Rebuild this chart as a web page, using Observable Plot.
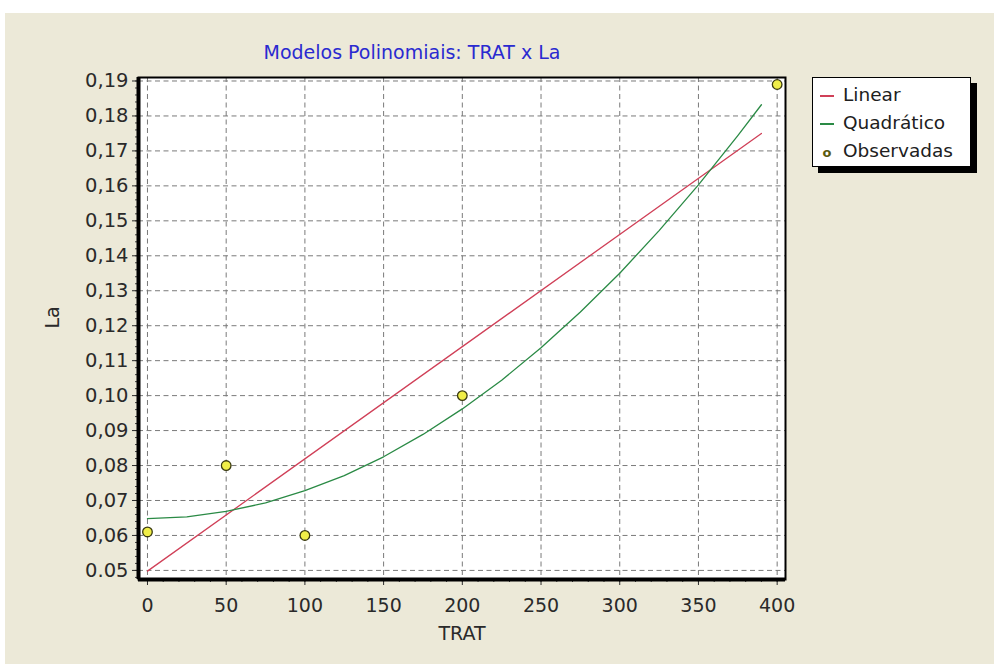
<!DOCTYPE html>
<html>
<head>
<meta charset="utf-8">
<script src="https://cdn.jsdelivr.net/npm/d3@7"></script>
<script src="https://cdn.jsdelivr.net/npm/@observablehq/plot@0.6"></script>
<style>
  html, body { margin: 0; padding: 0; background: #ffffff; }
  #wrap { position: relative; width: 994px; height: 664px; overflow: hidden; font-family: "DejaVu Sans", sans-serif; }
  #panel { position: absolute; left: 5px; top: 13px; right: 0; bottom: 0; background: #ECE9D8; }
  #chart { position: absolute; left: 0; top: 0; }
  #title { position: absolute; left: 212px; width: 400px; top: 41px; text-align: center; color: #2a2ad0; font-size: 19px; }
  #legend { position: absolute; left: 812px; top: 77px; width: 157px; height: 88px; background: #ffffff;
            border: 1.5px solid #000; box-shadow: 6px 6px 0 #000; font-size: 18.5px; color: #202020; }
  .item { position: absolute; left: 7px; height: 24px; line-height: 24px; white-space: nowrap; }
  .swatch { display: inline-block; width: 14px; height: 2px; vertical-align: middle; margin-right: 9px; }
  .mark { display: inline-block; width: 14px; margin-right: 9px; text-align: center; color: #5a5a10; font-size: 13px; font-weight: bold; }
</style>
</head>
<body>
<div id="wrap">
  <div id="panel"></div>
  <div id="chart"></div>
  <div id="title">Modelos Polinomiais: TRAT x La</div>
  <div id="legend"></div>
</div>
<script>
// Observed values
const tratObs = [0, 50, 100, 200, 400];
const laObs = [0.061, 0.080, 0.060, 0.100, 0.189];

// Linear model curve
const tratLinear = [0, 390];
const laLinear = [0.0498, 0.1750];

// Quadratic model curve
const tratQuad = [0, 25, 50, 75, 100, 125, 150, 175, 200, 225, 250, 275, 300, 325, 350, 375, 390];
const laQuad = [0.0648, 0.0653, 0.0669, 0.0693, 0.0728, 0.0771, 0.0825, 0.0889, 0.0962,
                0.1044, 0.1137, 0.1239, 0.1350, 0.1472, 0.1603, 0.1744, 0.1832];

// Axis ticks and labels
const xTicks = [0, 50, 100, 150, 200, 250, 300, 350, 400];
const xMinor = d3.range(0, 401, 10);
const yTicks = [0.05, 0.06, 0.07, 0.08, 0.09, 0.10, 0.11, 0.12, 0.13, 0.14, 0.15, 0.16, 0.17, 0.18, 0.19];
const yTickLabels = ["0.05", "0,06", "0,07", "0,08", "0,09", "0,10", "0,11", "0,12", "0,13", "0,14", "0,15", "0,16", "0,17", "0,18", "0,19"];
const yMinor = d3.range(0.048, 0.1905, 0.002);

const xDomain = [-5.7, 405.3];
const yDomain = [0.0474, 0.191];

const seriesNames = ["Linear", "Quadrático", "Observadas"];
const seriesColors = ["#d04058", "#2a8a45", "#f0ee48"];

const obs = tratObs.map((x, i) => ({x, y: laObs[i]}));
const lin = tratLinear.map((x, i) => ({x, y: laLinear[i]}));
const quad = tratQuad.map((x, i) => ({x, y: laQuad[i]}));

const fmtY = d => {
  const i = yTicks.findIndex(t => Math.abs(t - d) < 1e-9);
  return i >= 0 ? yTickLabels[i] : "";
};

const chart = Plot.plot({
  width: 994,
  height: 664,
  marginLeft: 138,
  marginRight: 209,
  marginTop: 77,
  marginBottom: 85,
  style: { background: "transparent", fontFamily: "DejaVu Sans, sans-serif", color: "#2a2a2a" },
  x: { domain: xDomain, label: null },
  y: { domain: yDomain, label: null },
  marks: [
    Plot.frame({ fill: "#ffffff", stroke: "none" }),
    Plot.gridX(xTicks, { stroke: "#7a7a7a", strokeOpacity: 1, strokeDasharray: "5,3.5", strokeWidth: 1 }),
    Plot.gridY(yTicks, { stroke: "#7a7a7a", strokeOpacity: 1, strokeDasharray: "5,3.5", strokeWidth: 1 }),
    Plot.axisX(xMinor, { tickSize: 3, tickFormat: () => "", label: null, stroke: "#404040" }),
    Plot.axisX(xTicks, { tickSize: 6, tickPadding: 13, fontSize: 19, label: null, stroke: "#2a2a2a", fill: "#2a2a2a" }),
    Plot.axisY(yMinor, { tickSize: 3, tickFormat: () => "", label: null, stroke: "#404040" }),
    Plot.axisY(yTicks, { tickSize: 6, tickPadding: 4, fontSize: 19.5, tickFormat: fmtY, label: null, stroke: "#2a2a2a", fill: "#2a2a2a" }),
    Plot.line(lin, { x: "x", y: "y", stroke: seriesColors[0], strokeWidth: 1.3 }),
    Plot.line(quad, { x: "x", y: "y", stroke: seriesColors[1], strokeWidth: 1.3, curve: "linear" }),
    Plot.dot(obs, { x: "x", y: "y", r: 4.8, fill: seriesColors[2], stroke: "#3a3a10", strokeWidth: 1.3 }),
    Plot.frame({ stroke: "#000", strokeWidth: 2 }),
    Plot.ruleX([xDomain[0]], { stroke: "#000", strokeWidth: 4 }),
    Plot.ruleY([yDomain[0]], { stroke: "#000", strokeWidth: 4 }),
    Plot.text(["La"], { frameAnchor: "left", dx: -86, rotate: -90, fontSize: 19, fill: "#2a2a2a" }),
    Plot.text(["TRAT"], { frameAnchor: "bottom", dy: 60, fontSize: 19, fill: "#2a2a2a" })
  ]
});
document.getElementById("chart").appendChild(chart);

// Legend
const legend = document.getElementById("legend");
seriesNames.forEach((name, i) => {
  const item = document.createElement("div");
  item.className = "item";
  item.style.top = (5 + i * 28) + "px";
  const sym = document.createElement("span");
  if (i < 2) {
    sym.className = "swatch";
    sym.style.backgroundColor = seriesColors[i];
  } else {
    sym.className = "mark";
    sym.textContent = "o";
  }
  item.appendChild(sym);
  item.appendChild(document.createTextNode(name));
  legend.appendChild(item);
});
</script>
</body>
</html>
